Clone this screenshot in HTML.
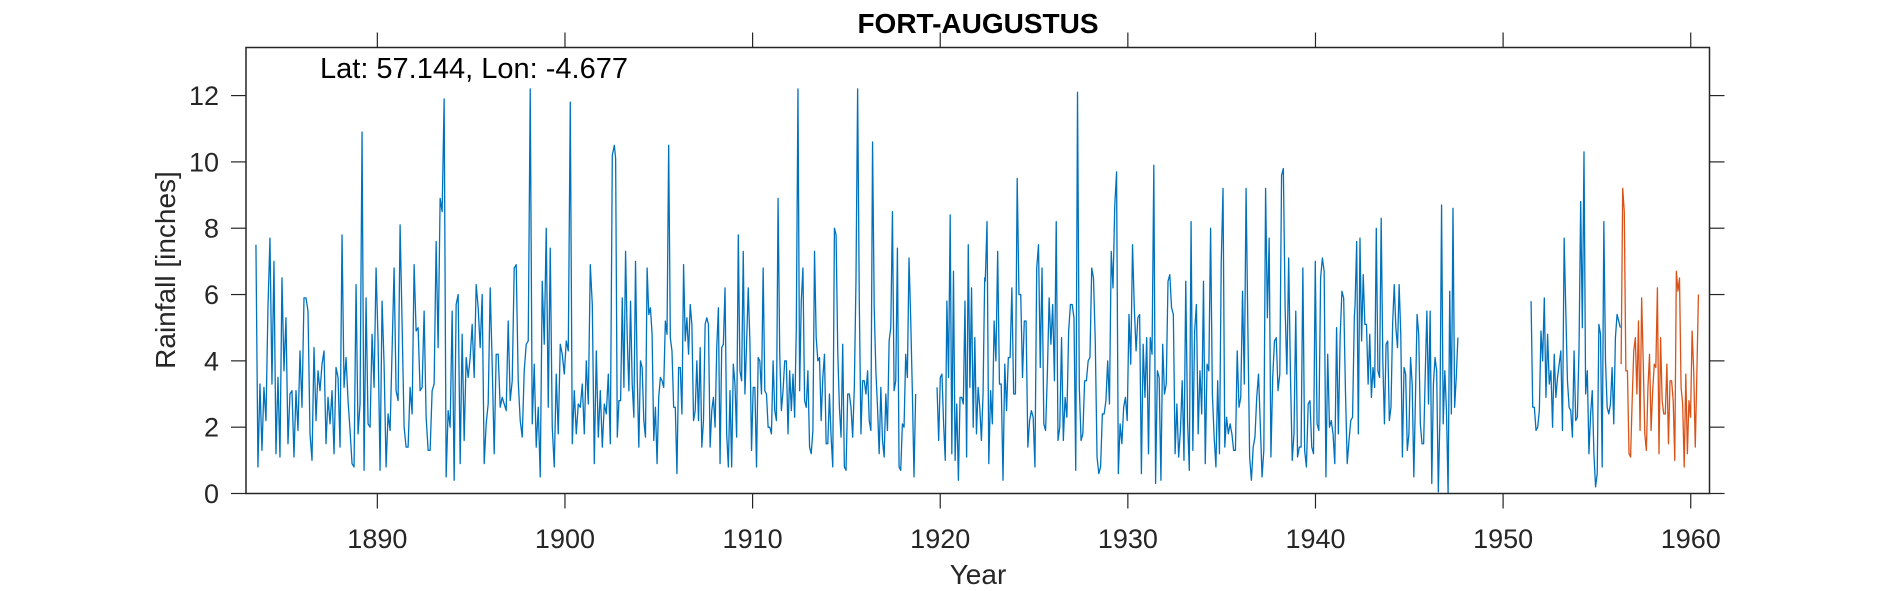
<!DOCTYPE html>
<html><head><meta charset="utf-8"><title>FORT-AUGUSTUS</title>
<style>
html,body{margin:0;padding:0;background:#fff;}
svg{display:block;font-family:"Liberation Sans",Arial,sans-serif;}
</style></head>
<body>
<svg id="chart" width="1890" height="591" viewBox="0 0 1890 591" xmlns="http://www.w3.org/2000/svg">
<rect width="1890" height="591" fill="#fff"/>
<text x="978" y="33" text-anchor="middle" font-size="28" font-weight="bold" fill="#000">FORT-AUGUSTUS</text>
<g id="ticks"></g>
<g id="series"></g>
<rect x="246" y="47.5" width="1463.5" height="446" fill="none" stroke="#262626" stroke-width="1.5"/>
<text x="320" y="78" font-size="29" fill="#000">Lat: 57.144, Lon: -4.677</text>
<text x="978" y="584" text-anchor="middle" font-size="28" fill="#262626">Year</text>
<text x="0" y="0" transform="translate(175,270) rotate(-90)" text-anchor="middle" font-size="28" fill="#262626">Rainfall [inches]</text>
</svg>
<script>
const xTicks = [1890,1900,1910,1920,1930,1940,1950,1960];
const yTicks = [0,2,4,6,8,10,12];
const xDomain = [1883,1961];
const yDomain = [0,13.45];

const seg1Years = [1883.53,1902.63];
const seg1Vals = [7.5,0.8,3.3,1.3,3.2,2.2,5.6,7.7,3.3,7.0,1.2,3.5,1.1,6.5,3.7,5.3,1.5,3.0,3.1,1.1,3.1,1.9,4.3,2.6,5.9,5.9,5.5,1.8,1.0,4.4,2.2,3.7,3.1,3.9,4.3,1.5,2.9,2.1,3.1,1.2,3.8,3.5,1.4,7.8,3.2,4.1,2.8,1.9,0.9,0.8,6.3,1.8,2.7,10.9,0.7,5.9,2.1,2.0,4.8,3.2,6.8,4.6,0.7,5.8,3.9,0.8,2.4,1.9,4.3,6.8,3.1,2.8,8.1,5.1,2.0,1.4,1.4,3.2,2.4,6.9,4.9,5.0,3.1,3.2,5.5,2.3,1.3,1.3,3.1,3.3,7.6,4.4,8.9,8.5,11.9,0.5,2.5,2.0,5.5,0.4,5.7,6.0,0.9,4.8,1.6,4.1,3.5,4.1,5.1,3.5,6.3,5.6,4.4,6.0,0.9,2.1,2.7,6.2,3.9,1.2,4.2,4.2,2.6,2.9,2.7,2.5,5.2,2.8,3.4,6.8,6.9,3.4,2.2,1.7,3.7,4.5,4.6,12.2,2.1,3.9,1.4,2.6,0.5,6.4,4.5,8.0,2.6,7.4,2.0,0.8,3.6,1.8,4.5,4.2,3.6,4.6,4.3,11.8,1.5,3.1,1.8,2.7,2.6,3.3,1.8,4.0,2.7,6.9,5.7,0.9,4.3,1.7,3.1,1.4,2.7,2.4,3.6,1.5,10.2,10.5];

const seg2Years = [1902.70,1918.69];
const seg2Vals = [10.1,1.7,2.8,2.8,5.9,3.2,7.3,4.7,3.1,5.8,3.3,2.3,7.0,3.6,1.4,4.0,3.8,2.2,1.7,6.8,5.4,5.6,4.8,1.6,2.6,0.9,2.9,3.5,3.4,3.2,5.2,4.8,10.5,4.7,4.3,2.6,2.6,0.6,3.8,3.8,2.4,6.9,4.6,5.3,4.2,5.7,5.1,2.2,2.5,4.0,2.2,4.4,1.4,2.2,5.1,5.3,5.1,1.4,2.5,2.9,2.0,4.4,5.6,0.9,4.4,4.5,6.2,1.8,0.8,3.1,0.8,3.9,3.3,1.7,7.8,3.7,3.4,7.3,3.0,4.5,6.2,4.6,1.3,3.2,3.2,0.8,4.1,4.0,3.0,6.8,3.1,3.0,2.0,2.0,1.8,4.0,2.5,2.2,8.9,4.2,2.5,3.1,4.0,4.0,1.8,3.7,2.5,3.6,2.3,5.0,12.2,3.1,5.8,6.8,2.8,2.6,3.7,1.4,1.2,1.9,7.3,4.7,4.0,4.1,2.2,3.5,4.2,1.5,1.5,3.0,1.7,0.8,8.0,7.8,4.3,2.6,1.7,4.5,0.8,0.7,3.0,3.0,2.6,1.7,3.2,6.4,12.2,5.8,1.8,3.4,3.4,3.0,3.7,2.2,1.9,10.6,5.6,3.7,2.6,1.2,3.2,1.6,1.1,3.0,1.9,4.6,5.0,8.5,3.1,3.4,7.4,0.8,0.7,2.1,2.0,4.2,3.5,7.1,5.3,3.1,0.5,3.0];

const seg3Years = [1919.83,1922.37];
const seg3Vals = [3.2,1.6,3.5,3.6,2.1,1.0,5.8,3.5,8.4,1.2,6.7,1.0,2.7,0.4,2.9,2.9,2.7,5.8,1.1,7.5,3.2,6.2,2.0,4.7,1.8,3.2,2.6,1.6,3.0,6.5];

const seg4Years = [1922.40,1942.07];
const seg4Vals = [6.4,8.2,0.9,3.1,2.1,5.2,4.0,7.3,3.3,3.3,0.4,3.9,2.5,4.1,4.1,6.2,3.0,3.0,9.5,6.0,6.0,3.5,5.2,5.2,1.4,2.2,2.5,2.3,0.8,6.8,7.5,3.8,6.8,2.1,1.9,3.6,5.9,4.5,5.7,3.4,8.2,1.6,2.0,4.7,1.6,2.9,2.3,4.9,5.7,5.7,5.3,0.7,12.1,3.2,1.6,1.8,3.4,3.4,4.0,4.1,6.8,6.5,4.6,1.1,0.6,0.8,2.4,2.4,2.8,4.0,2.7,7.3,6.2,8.7,9.7,0.6,2.1,1.5,2.6,2.9,2.2,5.4,3.9,7.5,5.6,4.3,5.3,5.4,0.6,4.5,2.9,4.7,1.2,4.7,4.2,9.9,0.3,3.7,3.5,0.4,4.5,3.0,3.3,6.4,6.6,5.6,5.4,1.2,2.7,1.1,1.9,3.4,1.0,6.4,2.2,0.7,8.2,1.3,4.9,5.7,1.8,3.7,2.4,6.4,0.9,3.9,3.7,8.0,3.0,1.7,0.8,3.4,1.2,7.0,9.2,1.4,2.3,1.8,2.1,1.8,1.3,1.3,4.3,2.6,2.9,6.1,3.3,9.2,5.0,1.1,0.4,1.4,1.7,2.9,3.6,2.1,0.5,1.3,9.2,5.3,7.7,1.1,3.5,4.6,4.7,3.1,3.6,9.6,9.8,5.6,3.6,7.1,3.6,1.0,1.8,5.5,1.1,1.4,1.4,6.8,1.3,0.8,2.7,2.8,1.4,1.2,7.0,2.1,1.9,6.5,7.1,6.7,0.5,4.2,2.0,2.2,1.8,0.9,5.0,1.8,4.7,6.1,5.9,3.1,0.9,1.6,2.2,2.3,5.3];

const seg5Years = [1942.11,1947.59];
const seg5Vals = [5.7,7.6,1.8,7.7,4.6,6.6,5.1,5.1,3.3,4.8,2.9,3.8,3.2,8.0,3.7,3.5,8.3,4.0,2.1,4.5,4.6,2.2,2.6,5.1,6.3,5.0,4.4,6.3,4.8,1.1,3.8,3.6,1.3,1.8,4.1,3.3,0.5,2.9,5.4,4.8,2.1,1.5,1.5,3.6,5.5,2.7,5.5,0.3,3.3,4.1,3.7,0.05,2.3,8.7,2.1,3.7,2.5,0.0,6.1,2.4,8.6,2.6,3.5,4.7];

const seg6Years = [1951.49,1956.25];
const seg6Vals = [5.8,2.6,2.6,1.9,2.0,2.5,4.9,4.0,5.9,2.9,4.8,3.3,3.7,2.0,4.2,2.9,3.5,3.9,4.3,1.9,7.7,5.5,3.4,2.6,2.5,1.7,4.3,2.2,2.3,4.4,8.8,5.0,10.3,3.0,3.7,1.2,2.4,3.1,1.2,0.2,0.6,5.1,4.8,0.8,8.2,4.0,2.6,2.4,2.7,3.8,2.1,4.7,5.4,5.2,5.0];

const seg7Years = [1956.29,1960.41];
const seg7Vals = [3.9,9.2,8.5,3.7,3.7,1.2,1.1,2.8,4.3,4.7,3.0,5.2,1.9,5.9,4.0,1.8,1.3,3.2,4.2,1.9,3.1,3.9,3.8,6.2,1.2,4.7,2.8,2.4,2.4,3.9,1.5,3.4,3.4,2.8,1.0,6.7,6.1,6.5,3.2,2.7,0.8,3.6,1.2,2.8,2.3,4.9,3.7,1.4,3.6,6.0];

const NS = 'http://www.w3.org/2000/svg';
const P = {left:246, right:1709.5, top:47.5, bottom:493.5};
function xScale(yr){ return P.left + (yr - xDomain[0]) / (xDomain[1]-xDomain[0]) * (P.right-P.left); }
function yScale(v){ return P.bottom - (v - yDomain[0]) / (yDomain[1]-yDomain[0]) * (P.bottom-P.top); }
function pts(years, vals){
  const out = [];
  const n = vals.length;
  for (let i=0;i<n;i++){
    const yr = years[0] + (years[1]-years[0]) * (n>1 ? i/(n-1) : 0);
    out.push(xScale(yr).toFixed(2)+','+yScale(vals[i]).toFixed(2));
  }
  return out;
}
const ticksG = document.getElementById('ticks');
const seriesG = document.getElementById('series');

xTicks.forEach(t => {
  const x = xScale(t);
  const l1 = document.createElementNS(NS,'line');
  
  
  l1.setAttribute('x1',x); l1.setAttribute('x2',x); l1.setAttribute('y1',P.bottom); l1.setAttribute('y2',P.bottom+15);
  l1.setAttribute('stroke','#262626'); l1.setAttribute('stroke-width','1.2');
  ticksG.appendChild(l1);
  const l2 = document.createElementNS(NS,'line');
  
  
  l2.setAttribute('x1',x); l2.setAttribute('x2',x); l2.setAttribute('y1',P.top); l2.setAttribute('y2',P.top-15);
  l2.setAttribute('stroke','#262626'); l2.setAttribute('stroke-width','1.2');
  ticksG.appendChild(l2);
  const tx = document.createElementNS(NS,'text');
  
  
  tx.setAttribute('x',x); tx.setAttribute('y',548); tx.setAttribute('text-anchor','middle');
  tx.setAttribute('font-size','27'); tx.setAttribute('fill','#262626');
  tx.textContent = t;
  ticksG.appendChild(tx);
});
yTicks.forEach(t => {
  const y = yScale(t);
  const l1 = document.createElementNS(NS,'line');
  
  
  l1.setAttribute('x1',P.left-15); l1.setAttribute('x2',P.left); l1.setAttribute('y1',y); l1.setAttribute('y2',y);
  l1.setAttribute('stroke','#262626'); l1.setAttribute('stroke-width','1.2');
  ticksG.appendChild(l1);
  const l2 = document.createElementNS(NS,'line');
  
  
  l2.setAttribute('x1',P.right); l2.setAttribute('x2',P.right+15); l2.setAttribute('y1',y); l2.setAttribute('y2',y);
  l2.setAttribute('stroke','#262626'); l2.setAttribute('stroke-width','1.2');
  ticksG.appendChild(l2);
  const tx = document.createElementNS(NS,'text');
  
  
  tx.setAttribute('x',219); tx.setAttribute('y',y+9.5); tx.setAttribute('text-anchor','end');
  tx.setAttribute('font-size','27'); tx.setAttribute('fill','#262626');
  tx.textContent = t;
  ticksG.appendChild(tx);
});

function addLine(pointList, color, name){
  const pl = document.createElementNS(NS,'polyline');
  
  
  pl.setAttribute('points', pointList.join(' '));
  pl.setAttribute('fill','none'); pl.setAttribute('stroke',color);
  pl.setAttribute('stroke-width','1.3'); pl.setAttribute('stroke-linejoin','round');
  seriesG.appendChild(pl);
}
addLine(pts(seg1Years,seg1Vals).concat(pts(seg2Years,seg2Vals)), '#0072BD', 'observed-rainfall-1883-1918');
addLine(pts(seg3Years,seg3Vals).concat(pts(seg4Years,seg4Vals), pts(seg5Years,seg5Vals)), '#0072BD', 'observed-rainfall-1919-1947');
addLine(pts(seg6Years,seg6Vals), '#0072BD', 'observed-rainfall-1951-1956');
addLine(pts(seg7Years,seg7Vals), '#D95319', 'rainfall-1956-1960-highlight');
</script>
</body></html>
